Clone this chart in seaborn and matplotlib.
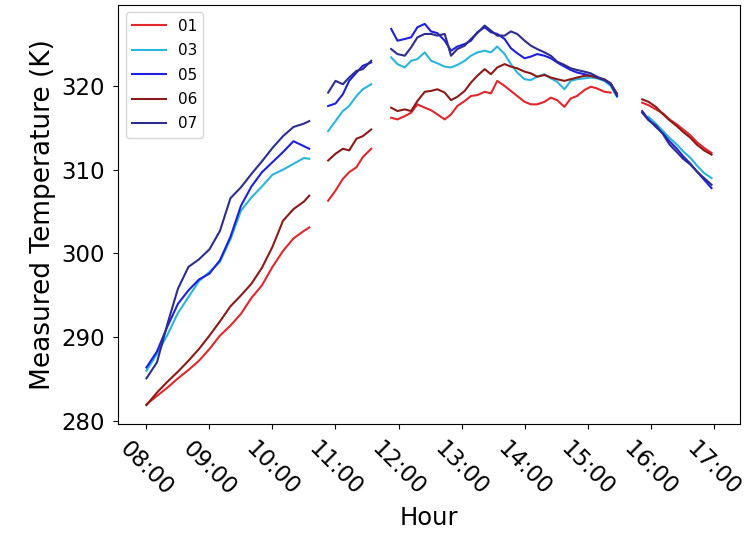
import matplotlib
matplotlib.use("Agg")
import matplotlib.pyplot as plt
import matplotlib.dates as mdates
import numpy as np
import pandas as pd
import seaborn as sns

DAY = "2021-07-15"
nan = np.nan

# Sensor ids and their line colours
sensors = ["01", "03", "05", "06", "07"]
colors = ["#e3262b", "#2cb5dc", "#1f1fe0", "#8b1a1a", "#2d2d8e"]

# Logging period 1 (morning)
times_p1 = ["08:00", "08:10", "08:20", "08:30", "08:40", "08:50", "09:00", "09:10",
            "09:20", "09:30", "09:40", "09:50", "10:00", "10:10", "10:20", "10:30", "10:35"]
p1_01 = [282.0, 283.0, 284.0, 285.1, 286.1, 287.2, 288.6, 290.2, 291.4, 292.8, 294.7,
         296.2, 298.4, 300.3, 301.8, 302.7, 303.1]
p1_03 = [286.0, 288.0, 290.3, 292.9, 294.8, 296.7, 297.8, 299.0, 301.7, 305.1, 306.7,
         308.0, 309.4, 310.0, 310.7, 311.4, 311.3]
p1_05 = [286.4, 288.3, 291.3, 294.0, 295.6, 296.9, 297.6, 299.2, 302.0, 305.7, 308.0,
         309.7, 310.9, 312.1, 313.4, 312.8, 312.5]
p1_06 = [281.9, 283.4, 284.7, 285.9, 287.2, 288.6, 290.2, 291.9, 293.7, 295.0, 296.4,
         298.3, 300.8, 303.9, 305.3, 306.2, 306.9]
p1_07 = [285.1, 287.0, 291.6, 295.8, 298.4, 299.3, 300.5, 302.7, 306.6, 307.9, 309.5,
         311.0, 312.6, 314.0, 315.1, 315.5, 315.8]

# Logging period 2
times_p2 = ["10:53", "11:00", "11:07", "11:13", "11:20", "11:26", "11:34"]
p2_01 = [306.3, 307.5, 308.9, 309.7, 310.3, 311.5, 312.5]
p2_03 = [314.6, 315.8, 317.0, 317.6, 318.8, 319.6, 320.2]
p2_05 = [317.6, 317.9, 319.0, 320.6, 321.6, 322.4, 322.8]
p2_06 = [311.1, 311.9, 312.5, 312.3, 313.7, 314.0, 314.8]
p2_07 = [319.2, 320.6, 320.2, 321.0, 321.8, 322.0, 323.0]

# Logging period 3 (midday)
times_p3 = ["11:53", "11:59", "12:06", "12:12", "12:18", "12:25", "12:31", "12:37",
            "12:44", "12:50", "12:56", "13:03", "13:09", "13:15", "13:22", "13:28",
            "13:34", "13:41", "13:47", "13:53", "14:00", "14:06", "14:12", "14:19",
            "14:25", "14:31", "14:38", "14:44", "14:50", "14:57", "15:03", "15:09",
            "15:16", "15:22", "15:28"]
p3_01 = [316.2, 316.0, 316.4, 316.8, 317.8, 317.4, 317.1, 316.6, 316.0, 316.6, 317.6,
         318.2, 318.8, 318.9, 319.3, 319.1, 320.6, 320.0, 319.4, 318.8, 318.1, 317.8,
         317.8, 318.1, 318.6, 318.3, 317.5, 318.5, 318.8, 319.5, 319.9, 319.7, 319.3,
         319.2, nan]
p3_03 = [323.4, 322.6, 322.2, 323.0, 323.2, 324.0, 323.0, 322.7, 322.3, 322.2, 322.5,
         323.0, 323.6, 324.0, 324.2, 324.0, 324.7, 323.8, 322.6, 321.6, 320.8, 320.7,
         321.1, 321.4, 320.9, 320.5, 319.6, 320.6, 320.8, 320.9, 321.0, 320.9, 320.6,
         320.0, 318.7]
p3_05 = [326.8, 325.4, 325.6, 325.8, 327.0, 327.4, 326.5, 326.3, 325.4, 324.2, 324.7,
         325.0, 325.4, 326.4, 327.0, 326.4, 326.2, 325.6, 324.5, 323.9, 323.3, 323.5,
         323.8, 323.6, 323.3, 322.8, 322.3, 321.9, 321.6, 321.4, 321.2, 321.0, 320.7,
         320.2, 318.8]
p3_06 = [317.4, 317.0, 317.2, 317.0, 318.2, 319.3, 319.4, 319.6, 319.2, 318.3, 318.7,
         319.4, 320.4, 321.2, 322.0, 321.4, 322.2, 322.6, 322.3, 322.1, 321.7, 321.5,
         321.1, 321.3, 321.0, 320.8, 320.6, 320.8, 321.0, 321.2, 321.2, 321.0, 320.8,
         320.3, 319.1]
p3_07 = [324.4, 323.8, 323.6, 324.6, 325.8, 326.2, 326.2, 326.0, 326.2, 323.6, 324.4,
         324.8, 325.6, 326.3, 327.2, 326.6, 326.0, 326.0, 326.5, 326.2, 325.4, 324.8,
         324.4, 324.0, 323.6, 322.9, 322.5, 322.1, 321.9, 321.7, 321.5, 321.1, 320.7,
         320.3, 318.9]

# Logging period 4 (late afternoon)
times_p4 = ["15:52", "15:58", "16:05", "16:12", "16:18", "16:25", "16:31", "16:38",
            "16:44", "16:51", "16:58"]
p4_01 = [318.0, 317.7, 317.2, 316.7, 316.0, 315.4, 314.8, 314.1, 313.3, 312.6, 312.0]
p4_03 = [nan, 316.3, 315.5, 314.6, 313.8, 313.0, 312.2, 311.4, 310.5, 309.6, 309.0]
p4_05 = [317.0, 316.0, 315.1, 314.3, 313.4, 312.5, 311.6, 310.7, 309.8, 308.8, 307.8]
p4_06 = [318.4, 318.1, 317.5, 316.6, 315.9, 315.2, 314.5, 313.8, 313.0, 312.3, 311.8]
p4_07 = [316.8, 315.9, 315.3, 314.2, 313.0, 312.1, 311.3, 310.6, 309.8, 309.0, 308.2]

periods = [
    (1, times_p1, [p1_01, p1_03, p1_05, p1_06, p1_07]),
    (2, times_p2, [p2_01, p2_03, p2_05, p2_06, p2_07]),
    (3, times_p3, [p3_01, p3_03, p3_05, p3_06, p3_07]),
    (4, times_p4, [p4_01, p4_03, p4_05, p4_06, p4_07]),
]

rows = []
for period, times, series in periods:
    for sensor, values in zip(sensors, series):
        for t, v in zip(times, values):
            rows.append({"time": pd.Timestamp(f"{DAY} {t}"), "sensor": sensor,
                         "period": period, "temp": v})
df = pd.DataFrame(rows).dropna()

fig = plt.figure(figsize=(7.48, 5.37), dpi=100)
ax = fig.add_axes([0.158, 0.21, 0.831, 0.781])

# one line per sensor and logging period, so the gaps between periods stay open
sns.lineplot(data=df, x="time", y="temp", hue="sensor", units="period",
             estimator=None, palette=dict(zip(sensors, colors)),
             hue_order=sensors, linewidth=1.5, ax=ax)

ax.xaxis.set_major_locator(mdates.HourLocator())
ax.xaxis.set_major_formatter(mdates.DateFormatter("%H:%M"))
ax.set_yticks([280, 290, 300, 310, 320])
ax.tick_params(axis="both", labelsize=16.5, length=3.8, pad=5.5)
plt.setp(ax.get_xticklabels(), rotation=-45)
ax.set_xlabel("Hour", fontsize=17.5)
ax.set_ylabel("Measured Temperature (K)", fontsize=19)

sns.move_legend(ax, "upper left", title=None, fontsize=11, handlelength=2.2,
                labelspacing=0.62)

fig.savefig("out.png", dpi=100)
